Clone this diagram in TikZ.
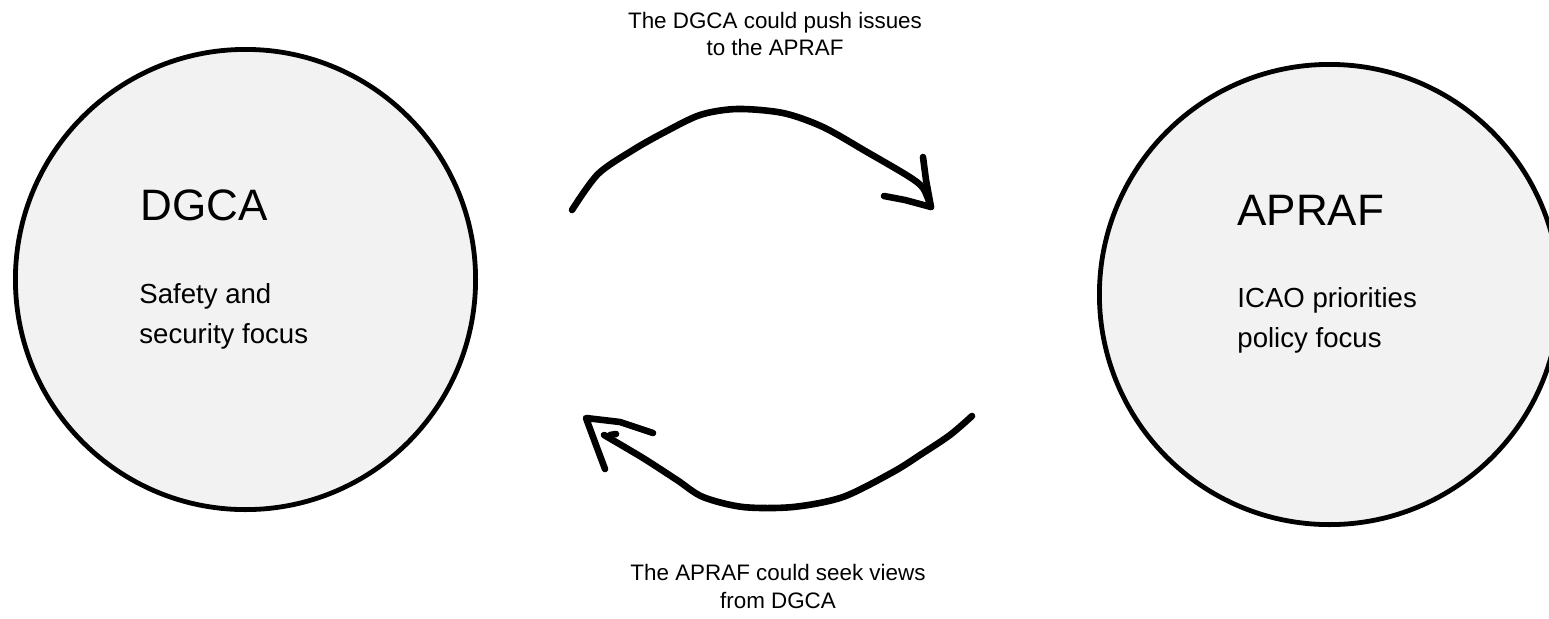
\documentclass[tikz,border=0pt]{standalone}
\usepackage{fontspec}
\setmainfont{Liberation Sans}
\definecolor{fillgray}{HTML}{F2F2F2}
\tikzset{
  bubble/.style={circle, draw=black, line width=2.4pt, fill=fillgray, minimum size=230.1pt, inner sep=0pt},
  titletext/.style={anchor=base west, inner sep=0pt, font=\fontsize{22}{26}\selectfont},
  bodytext/.style={anchor=base west, inner sep=0pt, font=\fontsize{13.8}{20}\selectfont},
  labeltext/.style={anchor=base, inner sep=0pt, font=\fontsize{11.2}{14}\selectfont},
  stroke/.style={line width=3.3pt, line cap=round, line join=round}
}
\begin{document}
\begin{tikzpicture}[x=0.5pt, y=-0.5pt]
\useasboundingbox (0,0) rectangle (1549,618);
\fill[white] (0,0) rectangle (1549,618);
\begin{scope}
\clip (0,0) rectangle (1549,618);
\node[bubble] (dgca) at (245.5,279.5) {};
\node[bubble] (apraf) at (1329.5,294.5) {};
\end{scope}
% texts inside circles
\node[titletext] (dgcaT) at (140,220) {DGCA};
\node[bodytext] (dgcaA) at (139,303) {Safety and};
\node[bodytext] (dgcaB) at (139,343) {security focus};
\node[titletext] (aprafT) at (1237,225) {APRAF};
\node[bodytext] (aprafA) at (1237,307) {ICAO priorities};
\node[bodytext] (aprafB) at (1237,347) {policy focus};
% labels
\node[labeltext] (topA) at (775,28) {The DGCA could push issues};
\node[labeltext] (topB) at (775,55) {to the APRAF};
\node[labeltext] (botA) at (778,580) {The APRAF could seek views};
\node[labeltext] (botB) at (778,608) {from DGCA};
% top arrow
\coordinate (s1) at (572,210);
\coordinate (e1) at (931,207);
\draw[stroke] plot[smooth, tension=0.5] coordinates {(s1) (598,174) (633,150) (663,133) (700,115) (737,109) (783,113) (823,127) (867,152) (908,176) (923,188) (e1)};
\draw[stroke] (923,157) -- (926,180) -- (e1) -- (905,200) -- (884,196);
% bottom arrow
\coordinate (s2) at (972,416);
\coordinate (e2) at (604,435);
\draw[stroke] plot[smooth, tension=0.5] coordinates {(s2) (950,435) (920,455) (893,472) (843,497) (793,507) (743,507) (703,497) (677,480) (643,458) (e2)};
\draw[stroke] (653,433) -- (620,422) -- (586,418) -- (596,445) -- (605,469);
\draw[stroke] (610,435) -- (616,434);
\end{tikzpicture}
\end{document}
